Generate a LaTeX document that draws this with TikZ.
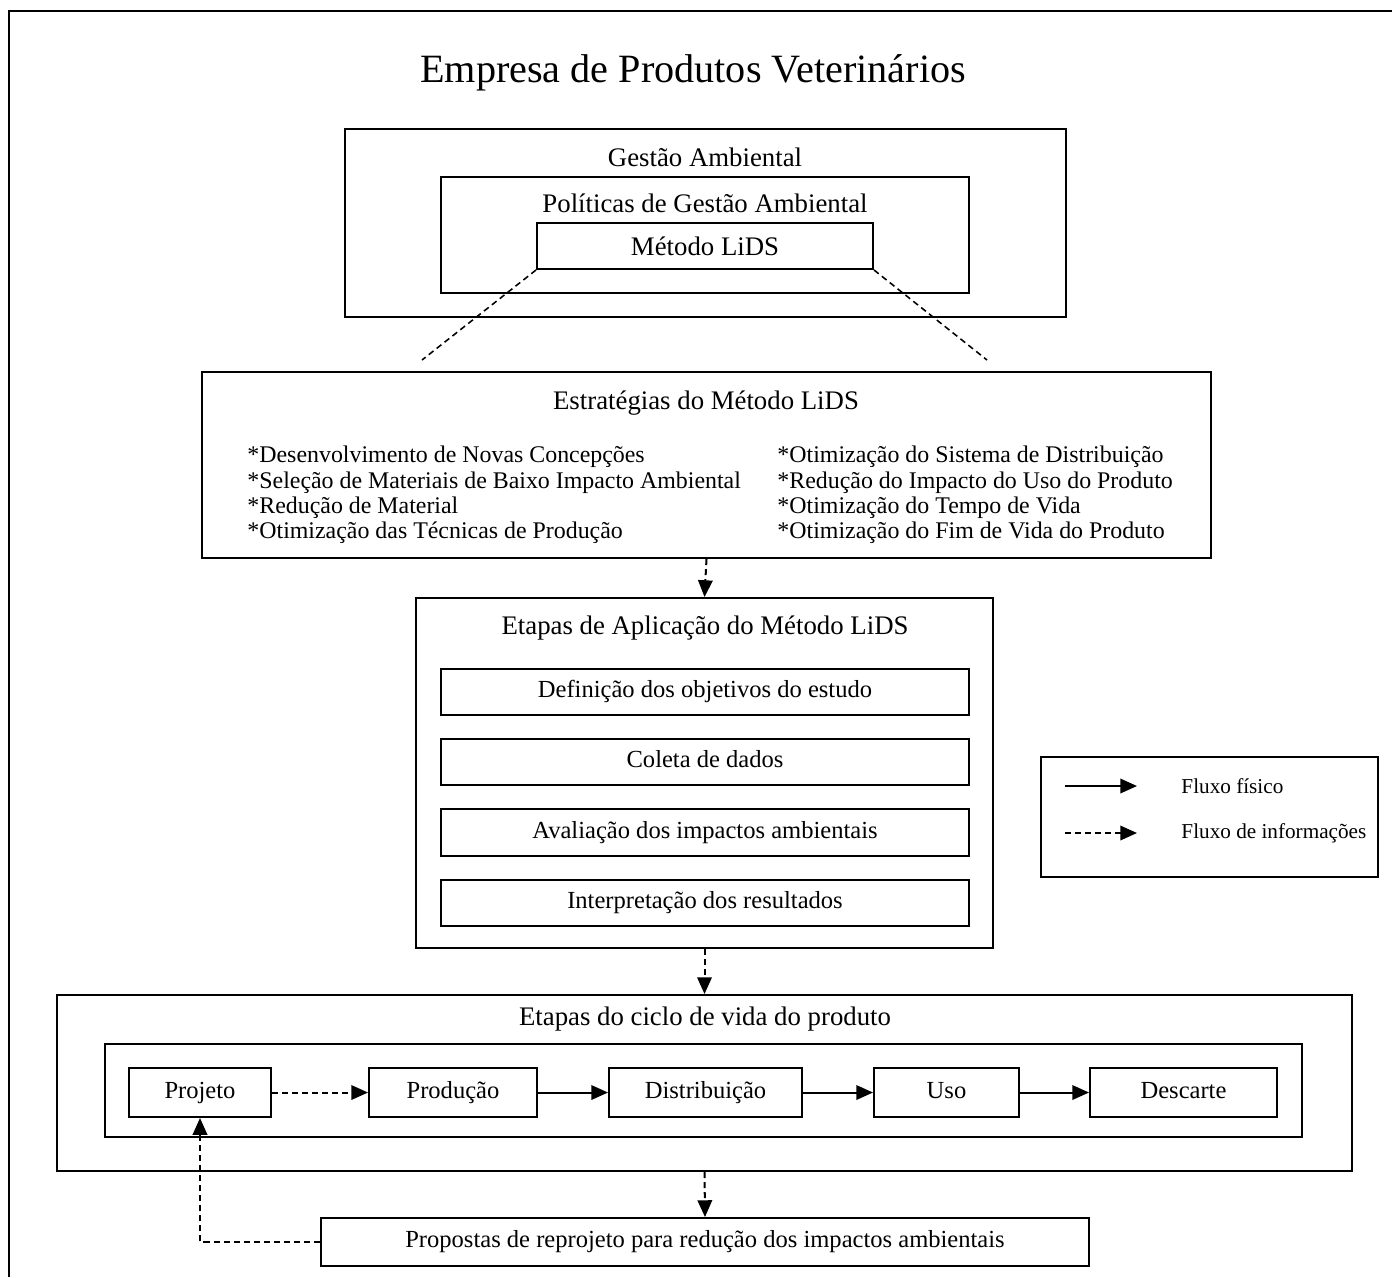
\documentclass[tikz,border=0pt]{standalone}
\usepackage{fontspec}
\setmainfont{Liberation Serif}
\usetikzlibrary{arrows.meta,fit}

\tikzset{
  box/.style={draw, line width=0.9pt, inner sep=0pt},
  flow/.style={line width=0.9pt, -{Triangle[length=7.5pt,width=6.5pt]}},
  info/.style={flow, dash pattern=on 2.7pt off 1.8pt},
  guide/.style={line width=0.7pt, dash pattern=on 2.7pt off 1.8pt},
  title/.style={font=\fontsize{18}{22}\selectfont},
  head/.style={font=\fontsize{12}{14}\selectfont},
  item/.style={font=\fontsize{11}{13}\selectfont, text height=0.72em, text depth=0.22em, inner sep=0pt},
  note/.style={font=\fontsize{9.5}{11}\selectfont, anchor=west, inner sep=0pt},
  txt/.style={label={[item]center:#1}},
}

\begin{document}
\begin{tikzpicture}[x=0.448pt, y=-0.448pt]
  \useasboundingbox (0,0) rectangle (1392,1277);
  % moldura
  \draw[line width=0.9pt] (9,1277) -- (9,11) -- (1392,11);
  \node[title] (titulo) at (693,73) {Empresa de Produtos Veterinários};

  % gestao ambiental
  \node[box, fit={(345,129) (1066,317)}] (gestao) {};
  \node[head] at (705,157) {Gestão Ambiental};
  \node[box, fit={(441,177) (969,293)}] (politicas) {};
  \node[head] at (705,203) {Políticas de Gestão Ambiental};
  \node[box, fit={(537,223) (873,269)}, label={[head]center:Método LiDS}] (metodo) {};
  \coordinate (lidsE) at (422,360);
  \coordinate (lidsD) at (987,360);
  \draw[guide] (metodo.south west) -- (lidsE);
  \draw[guide] (metodo.south east) -- (lidsD);

  % estrategias
  \node[box, fit={(202,372) (1211,558)}] (estrategias) {};
  \node[head] at (706,403) {Estratégias do Método LiDS};
  \node[anchor=west, inner sep=0pt, align=left, font=\fontsize{10.7}{11.3}\selectfont] (colE) at (247,495)
    {*Desenvolvimento de Novas Concepções\\
     *Seleção de Materiais de Baixo Impacto Ambiental\\
     *Redução de Material\\
     *Otimização das Técnicas de Produção};
  \node[anchor=west, inner sep=0pt, align=left, font=\fontsize{10.7}{11.3}\selectfont] (colD) at (777,495)
    {*Otimização do Sistema de Distribuição\\
     *Redução do Impacto do Uso do Produto\\
     *Otimização do Tempo de Vida\\
     *Otimização do Fim de Vida do Produto};

  % etapas de aplicacao
  \node[box, fit={(416,598) (993,948)}] (etapas) {};
  \node[head] at (705,628) {Etapas de Aplicação do Método LiDS};
  \node[box, fit={(441,669) (969,715)}, txt={Definição dos objetivos do estudo}] (definicao) {};
  \node[box, fit={(441,739) (969,785)}, txt={Coleta de dados}] (coleta) {};
  \node[box, fit={(441,809) (969,856)}, txt={Avaliação dos impactos ambientais}] (avaliacao) {};
  \node[box, fit={(441,880) (969,926)}, txt={Interpretação dos resultados}] (interpretacao) {};
  \draw[info] (estrategias.south) -- (etapas.north);

  % ciclo de vida
  \node[box, fit={(57,995) (1352,1171)}] (ciclo) {};
  \node[head] at (705,1019) {Etapas do ciclo de vida do produto};
  \node[box, fit={(105,1044) (1302,1137)}] (estagios) {};
  \node[box, fit={(129,1068) (271,1117)}, txt={Projeto}] (projeto) {};
  \node[box, fit={(369,1068) (537,1117)}, txt={Produção}] (producao) {};
  \node[box, fit={(609,1068) (802,1117)}, txt={Distribuição}] (distribuicao) {};
  \node[box, fit={(874,1068) (1019,1117)}, txt={Uso}] (uso) {};
  \node[box, fit={(1090,1068) (1277,1117)}, txt={Descarte}] (descarte) {};
  \draw[info] (projeto) -- (producao);
  \draw[flow] (producao) -- (distribuicao);
  \draw[flow] (distribuicao) -- (uso);
  \draw[flow] (uso) -- (descarte);
  \draw[info] (etapas.south) -- (ciclo.north);

  % propostas
  \node[box, fit={(321,1218) (1089,1266)}, txt={Propostas de reprojeto para redução dos impactos ambientais}] (propostas) {};
  \draw[info] (ciclo.south) -- (propostas.north);
  \draw[info] (propostas.west) -| (projeto.south);

  % legenda
  \node[box, fit={(1041,757) (1378,877)}] (legenda) {};
  \coordinate (fisA) at (1065,786);
  \coordinate (fisB) at (1137,786);
  \coordinate (infA) at (1065,833);
  \coordinate (infB) at (1137,833);
  \draw[flow] (fisA) -- (fisB);
  \draw[info] (infA) -- (infB);
  \node[note] (fisico) at (1181,786) {Fluxo físico};
  \node[note] (informacoes) at (1181,833) {Fluxo de informações};
\end{tikzpicture}
\end{document}
